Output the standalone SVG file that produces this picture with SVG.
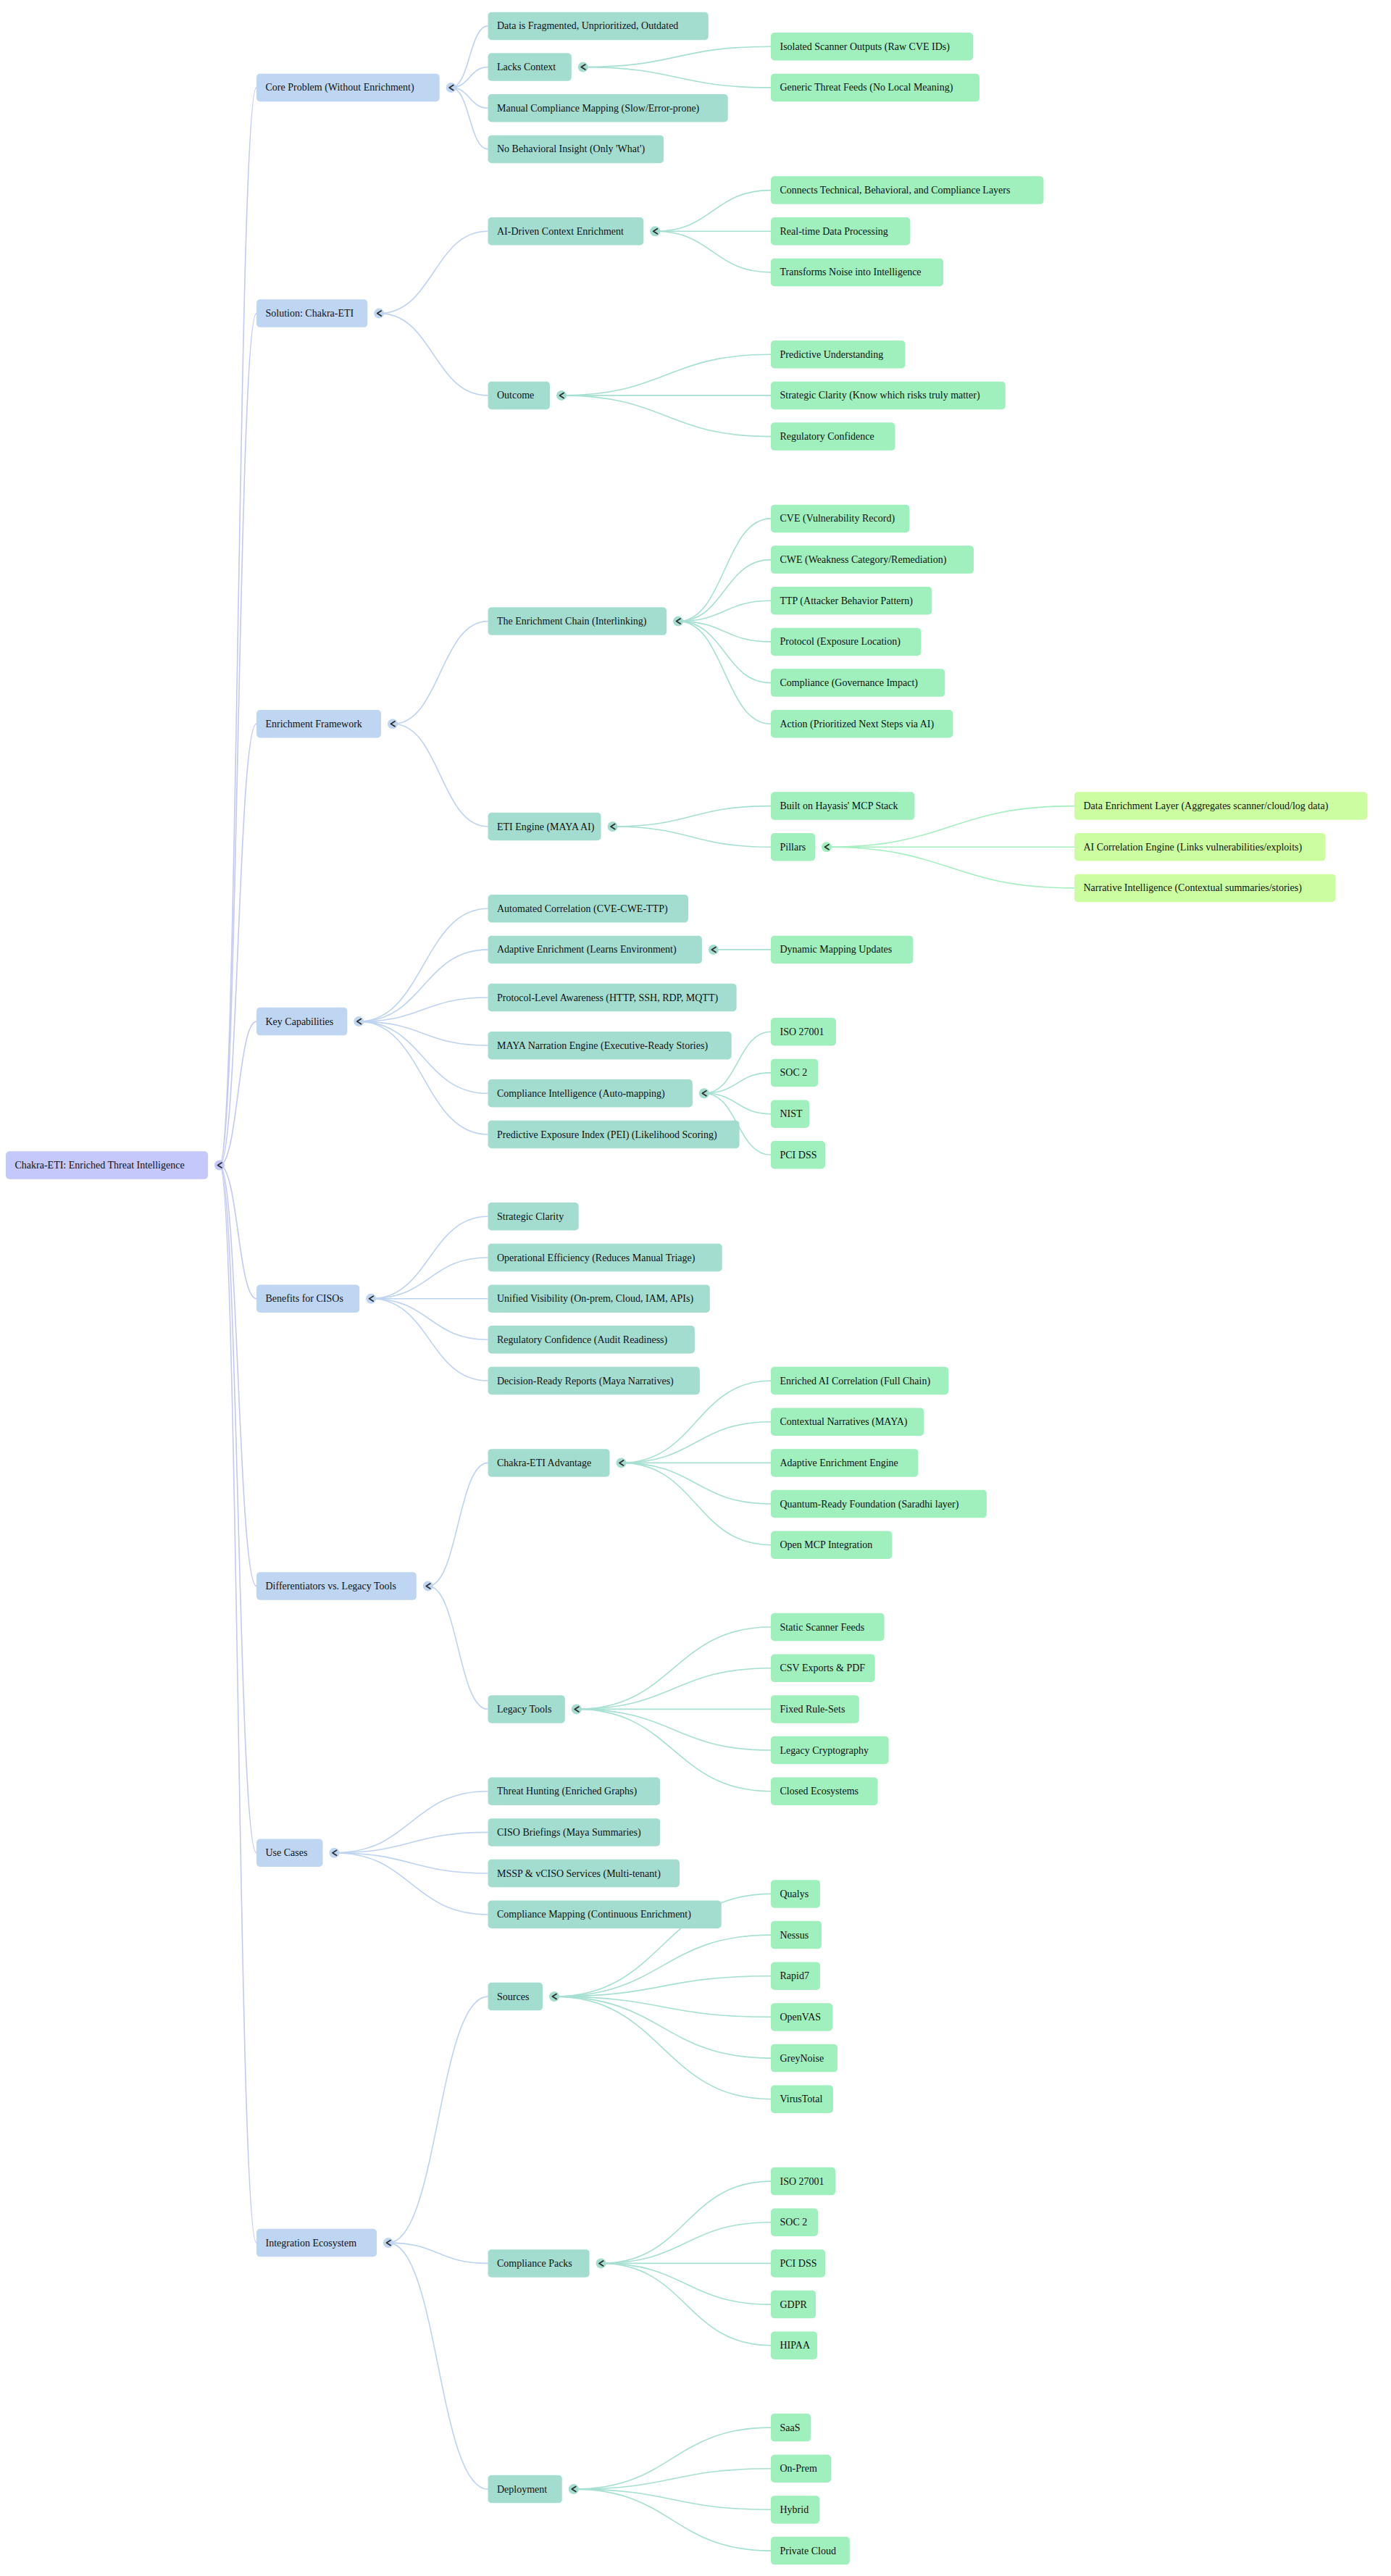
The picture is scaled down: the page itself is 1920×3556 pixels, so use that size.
<svg xmlns="http://www.w3.org/2000/svg" xmlns:xlink="http://www.w3.org/1999/xlink" width="1920" height="3556" viewBox="0 0 1920 3556">
<defs>
<style>
text{font-family:"Liberation Serif","Times New Roman",serif;font-size:14px;fill:#111111}
rect.b{rx:5px;ry:5px}
.f0{fill:#c4c8fb}.f1{fill:#bed6f1}.f2{fill:#a3ddd0}.f3{fill:#9ff0bd}.f4{fill:#cdfda1}
#connectors path{fill:none;stroke-width:1.6}
.c0{stroke:#c3c8f6}.c1{stroke:#bdd3f0}.c2{stroke:#a6e0d2}.c3{stroke:#a3efbf}
.chev{fill:none;stroke:#2e2e2e;stroke-width:1.8;stroke-linecap:round;stroke-linejoin:round}
</style>
<path id="chev" class="chev" d="M3,-3.5 L-2.5,0 L3,3.5"/>
</defs>
<rect width="1920" height="3556" fill="#ffffff"/>
<g id="connectors">
<path class="c0" d="M303,1608.5 C328.5,1608.5 328.5,120.9 354,120.9"/>
<path class="c0" d="M303,1608.5 C328.5,1608.5 328.5,432.6 354,432.6"/>
<path class="c0" d="M303,1608.5 C328.5,1608.5 328.5,999.3 354,999.3"/>
<path class="c0" d="M303,1608.5 C328.5,1608.5 328.5,1410.1 354,1410.1"/>
<path class="c0" d="M303,1608.5 C328.5,1608.5 328.5,1792.7 354,1792.7"/>
<path class="c0" d="M303,1608.5 C328.5,1608.5 328.5,2189.4 354,2189.4"/>
<path class="c0" d="M303,1608.5 C328.5,1608.5 328.5,2557.7 354,2557.7"/>
<path class="c0" d="M303,1608.5 C328.5,1608.5 328.5,3096.1 354,3096.1"/>
<path class="c1" d="M622.7,120.9 C648.1,120.9 648.1,35.9 673.5,35.9"/>
<path class="c1" d="M622.7,120.9 C648.1,120.9 648.1,92.6 673.5,92.6"/>
<path class="c1" d="M622.7,120.9 C648.1,120.9 648.1,149.2 673.5,149.2"/>
<path class="c1" d="M622.7,120.9 C648.1,120.9 648.1,205.9 673.5,205.9"/>
<path class="c1" d="M523.2,432.6 C598.35,432.6 598.35,319.3 673.5,319.3"/>
<path class="c1" d="M523.2,432.6 C598.35,432.6 598.35,545.9 673.5,545.9"/>
<path class="c1" d="M542,999.3 C607.75,999.3 607.75,857.6 673.5,857.6"/>
<path class="c1" d="M542,999.3 C607.75,999.3 607.75,1141 673.5,1141"/>
<path class="c1" d="M495.3,1410.1 C584.4,1410.1 584.4,1254.3 673.5,1254.3"/>
<path class="c1" d="M495.3,1410.1 C584.4,1410.1 584.4,1310.9 673.5,1310.9"/>
<path class="c1" d="M495.3,1410.1 C584.4,1410.1 584.4,1377 673.5,1377"/>
<path class="c1" d="M495.3,1410.1 C584.4,1410.1 584.4,1443.2 673.5,1443.2"/>
<path class="c1" d="M495.3,1410.1 C584.4,1410.1 584.4,1509.3 673.5,1509.3"/>
<path class="c1" d="M495.3,1410.1 C584.4,1410.1 584.4,1566 673.5,1566"/>
<path class="c1" d="M512.2,1792.7 C592.85,1792.7 592.85,1679.3 673.5,1679.3"/>
<path class="c1" d="M512.2,1792.7 C592.85,1792.7 592.85,1736 673.5,1736"/>
<path class="c1" d="M512.2,1792.7 C592.85,1792.7 592.85,1792.7 673.5,1792.7"/>
<path class="c1" d="M512.2,1792.7 C592.85,1792.7 592.85,1849.3 673.5,1849.3"/>
<path class="c1" d="M512.2,1792.7 C592.85,1792.7 592.85,1906 673.5,1906"/>
<path class="c1" d="M590.8,2189.4 C632.15,2189.4 632.15,2019.4 673.5,2019.4"/>
<path class="c1" d="M590.8,2189.4 C632.15,2189.4 632.15,2359.4 673.5,2359.4"/>
<path class="c1" d="M461.5,2557.7 C567.5,2557.7 567.5,2472.7 673.5,2472.7"/>
<path class="c1" d="M461.5,2557.7 C567.5,2557.7 567.5,2529.4 673.5,2529.4"/>
<path class="c1" d="M461.5,2557.7 C567.5,2557.7 567.5,2586 673.5,2586"/>
<path class="c1" d="M461.5,2557.7 C567.5,2557.7 567.5,2642.7 673.5,2642.7"/>
<path class="c1" d="M536,3096.1 C604.75,3096.1 604.75,2756.1 673.5,2756.1"/>
<path class="c1" d="M536,3096.1 C604.75,3096.1 604.75,3124.4 673.5,3124.4"/>
<path class="c1" d="M536,3096.1 C604.75,3096.1 604.75,3436.1 673.5,3436.1"/>
<path class="c2" d="M804.8,92.6 C934.4,92.6 934.4,64.2 1064,64.2"/>
<path class="c2" d="M804.8,92.6 C934.4,92.6 934.4,120.9 1064,120.9"/>
<path class="c2" d="M904.3,319.3 C984.15,319.3 984.15,262.6 1064,262.6"/>
<path class="c2" d="M904.3,319.3 C984.15,319.3 984.15,319.3 1064,319.3"/>
<path class="c2" d="M904.3,319.3 C984.15,319.3 984.15,375.9 1064,375.9"/>
<path class="c2" d="M775,545.9 C919.5,545.9 919.5,489.3 1064,489.3"/>
<path class="c2" d="M775,545.9 C919.5,545.9 919.5,545.9 1064,545.9"/>
<path class="c2" d="M775,545.9 C919.5,545.9 919.5,602.6 1064,602.6"/>
<path class="c2" d="M936.1,857.6 C1000.05,857.6 1000.05,715.9 1064,715.9"/>
<path class="c2" d="M936.1,857.6 C1000.05,857.6 1000.05,772.6 1064,772.6"/>
<path class="c2" d="M936.1,857.6 C1000.05,857.6 1000.05,829.3 1064,829.3"/>
<path class="c2" d="M936.1,857.6 C1000.05,857.6 1000.05,885.9 1064,885.9"/>
<path class="c2" d="M936.1,857.6 C1000.05,857.6 1000.05,942.6 1064,942.6"/>
<path class="c2" d="M936.1,857.6 C1000.05,857.6 1000.05,999.3 1064,999.3"/>
<path class="c2" d="M845.6,1141 C954.8,1141 954.8,1112.6 1064,1112.6"/>
<path class="c2" d="M845.6,1141 C954.8,1141 954.8,1169.3 1064,1169.3"/>
<path class="c2" d="M984.9,1310.9 C1024.45,1310.9 1024.45,1310.9 1064,1310.9"/>
<path class="c2" d="M971.9,1509.3 C1017.95,1509.3 1017.95,1424.3 1064,1424.3"/>
<path class="c2" d="M971.9,1509.3 C1017.95,1509.3 1017.95,1480.9 1064,1480.9"/>
<path class="c2" d="M971.9,1509.3 C1017.95,1509.3 1017.95,1537.7 1064,1537.7"/>
<path class="c2" d="M971.9,1509.3 C1017.95,1509.3 1017.95,1594.3 1064,1594.3"/>
<path class="c2" d="M857.5,2019.4 C960.75,2019.4 960.75,1906 1064,1906"/>
<path class="c2" d="M857.5,2019.4 C960.75,2019.4 960.75,1962.7 1064,1962.7"/>
<path class="c2" d="M857.5,2019.4 C960.75,2019.4 960.75,2019.4 1064,2019.4"/>
<path class="c2" d="M857.5,2019.4 C960.75,2019.4 960.75,2076 1064,2076"/>
<path class="c2" d="M857.5,2019.4 C960.75,2019.4 960.75,2132.7 1064,2132.7"/>
<path class="c2" d="M795.8,2359.4 C929.9,2359.4 929.9,2246 1064,2246"/>
<path class="c2" d="M795.8,2359.4 C929.9,2359.4 929.9,2302.7 1064,2302.7"/>
<path class="c2" d="M795.8,2359.4 C929.9,2359.4 929.9,2359.4 1064,2359.4"/>
<path class="c2" d="M795.8,2359.4 C929.9,2359.4 929.9,2416 1064,2416"/>
<path class="c2" d="M795.8,2359.4 C929.9,2359.4 929.9,2472.7 1064,2472.7"/>
<path class="c2" d="M765,2756.1 C914.5,2756.1 914.5,2614.4 1064,2614.4"/>
<path class="c2" d="M765,2756.1 C914.5,2756.1 914.5,2671.1 1064,2671.1"/>
<path class="c2" d="M765,2756.1 C914.5,2756.1 914.5,2727.7 1064,2727.7"/>
<path class="c2" d="M765,2756.1 C914.5,2756.1 914.5,2784.4 1064,2784.4"/>
<path class="c2" d="M765,2756.1 C914.5,2756.1 914.5,2841.1 1064,2841.1"/>
<path class="c2" d="M765,2756.1 C914.5,2756.1 914.5,2897.7 1064,2897.7"/>
<path class="c2" d="M829.6,3124.4 C946.8,3124.4 946.8,3011.1 1064,3011.1"/>
<path class="c2" d="M829.6,3124.4 C946.8,3124.4 946.8,3067.7 1064,3067.7"/>
<path class="c2" d="M829.6,3124.4 C946.8,3124.4 946.8,3124.4 1064,3124.4"/>
<path class="c2" d="M829.6,3124.4 C946.8,3124.4 946.8,3181.1 1064,3181.1"/>
<path class="c2" d="M829.6,3124.4 C946.8,3124.4 946.8,3237.7 1064,3237.7"/>
<path class="c2" d="M791.8,3436.1 C927.9,3436.1 927.9,3351.1 1064,3351.1"/>
<path class="c2" d="M791.8,3436.1 C927.9,3436.1 927.9,3407.8 1064,3407.8"/>
<path class="c2" d="M791.8,3436.1 C927.9,3436.1 927.9,3464.4 1064,3464.4"/>
<path class="c2" d="M791.8,3436.1 C927.9,3436.1 927.9,3521.1 1064,3521.1"/>
<path class="c3" d="M1141,1169.3 C1312,1169.3 1312,1112.6 1483,1112.6"/>
<path class="c3" d="M1141,1169.3 C1312,1169.3 1312,1169.3 1483,1169.3"/>
<path class="c3" d="M1141,1169.3 C1312,1169.3 1312,1225.9 1483,1225.9"/>
</g>
<g id="nodes">
<g id="root"><rect class="b f0" x="8" y="1589.25" width="279" height="38.5"/><text x="20.5" y="1613">Chakra-ETI: Enriched Threat Intelligence</text><circle class="f0" cx="303" cy="1608.5" r="7"/><use xlink:href="#chev" x="303" y="1608.5"/></g>

<g id="core-problem"><rect class="b f1" x="354" y="101.65" width="252.7" height="38.5"/><text x="366.5" y="125.4">Core Problem (Without Enrichment)</text><circle class="f1" cx="622.7" cy="120.9" r="7"/><use xlink:href="#chev" x="622.7" y="120.9"/></g>
<g id="solution"><rect class="b f1" x="354" y="413.35" width="153.2" height="38.5"/><text x="366.5" y="437.1">Solution: Chakra-ETI</text><circle class="f1" cx="523.2" cy="432.6" r="7"/><use xlink:href="#chev" x="523.2" y="432.6"/></g>
<g id="enrichment-framework"><rect class="b f1" x="354" y="980.05" width="172" height="38.5"/><text x="366.5" y="1003.8">Enrichment Framework</text><circle class="f1" cx="542" cy="999.3" r="7"/><use xlink:href="#chev" x="542" y="999.3"/></g>
<g id="key-capabilities"><rect class="b f1" x="354" y="1390.85" width="125.3" height="38.5"/><text x="366.5" y="1414.6">Key Capabilities</text><circle class="f1" cx="495.3" cy="1410.1" r="7"/><use xlink:href="#chev" x="495.3" y="1410.1"/></g>
<g id="benefits"><rect class="b f1" x="354" y="1773.45" width="142.2" height="38.5"/><text x="366.5" y="1797.2">Benefits for CISOs</text><circle class="f1" cx="512.2" cy="1792.7" r="7"/><use xlink:href="#chev" x="512.2" y="1792.7"/></g>
<g id="differentiators"><rect class="b f1" x="354" y="2170.15" width="220.8" height="38.5"/><text x="366.5" y="2193.9">Differentiators vs. Legacy Tools</text><circle class="f1" cx="590.8" cy="2189.4" r="7"/><use xlink:href="#chev" x="590.8" y="2189.4"/></g>
<g id="use-cases"><rect class="b f1" x="354" y="2538.45" width="91.5" height="38.5"/><text x="366.5" y="2562.2">Use Cases</text><circle class="f1" cx="461.5" cy="2557.7" r="7"/><use xlink:href="#chev" x="461.5" y="2557.7"/></g>
<g id="integration"><rect class="b f1" x="354" y="3076.85" width="166" height="38.5"/><text x="366.5" y="3100.6">Integration Ecosystem</text><circle class="f1" cx="536" cy="3096.1" r="7"/><use xlink:href="#chev" x="536" y="3096.1"/></g>

<g id="data-fragmented"><rect class="b f2" x="673.5" y="16.65" width="304.3" height="38.5"/><text x="686" y="40.4">Data is Fragmented, Unprioritized, Outdated</text></g>
<g id="lacks-context"><rect class="b f2" x="673.5" y="73.35" width="115.3" height="38.5"/><text x="686" y="97.1">Lacks Context</text><circle class="f2" cx="804.8" cy="92.6" r="7"/><use xlink:href="#chev" x="804.8" y="92.6"/></g>
<g id="manual-compliance"><rect class="b f2" x="673.5" y="129.95" width="331.2" height="38.5"/><text x="686" y="153.7">Manual Compliance Mapping (Slow/Error-prone)</text></g>
<g id="no-behavioral"><rect class="b f2" x="673.5" y="186.65" width="242.6" height="38.5"/><text x="686" y="210.4">No Behavioral Insight (Only 'What')</text></g>
<g id="ai-driven"><rect class="b f2" x="673.5" y="300.05" width="214.8" height="38.5"/><text x="686" y="323.8">AI-Driven Context Enrichment</text><circle class="f2" cx="904.3" cy="319.3" r="7"/><use xlink:href="#chev" x="904.3" y="319.3"/></g>
<g id="outcome"><rect class="b f2" x="673.5" y="526.65" width="85.5" height="38.5"/><text x="686" y="550.4">Outcome</text><circle class="f2" cx="775" cy="545.9" r="7"/><use xlink:href="#chev" x="775" y="545.9"/></g>
<g id="enrichment-chain"><rect class="b f2" x="673.5" y="838.35" width="246.6" height="38.5"/><text x="686" y="862.1">The Enrichment Chain (Interlinking)</text><circle class="f2" cx="936.1" cy="857.6" r="7"/><use xlink:href="#chev" x="936.1" y="857.6"/></g>
<g id="eti-engine"><rect class="b f2" x="673.5" y="1121.75" width="156.1" height="38.5"/><text x="686" y="1145.5">ETI Engine (MAYA AI)</text><circle class="f2" cx="845.6" cy="1141" r="7"/><use xlink:href="#chev" x="845.6" y="1141"/></g>
<g id="automated-correlation"><rect class="b f2" x="673.5" y="1235.05" width="276.5" height="38.5"/><text x="686" y="1258.8">Automated Correlation (CVE-CWE-TTP)</text></g>
<g id="adaptive-enrichment"><rect class="b f2" x="673.5" y="1291.65" width="295.4" height="38.5"/><text x="686" y="1315.4">Adaptive Enrichment (Learns Environment)</text><circle class="f2" cx="984.9" cy="1310.9" r="7"/><use xlink:href="#chev" x="984.9" y="1310.9"/></g>
<g id="protocol-level"><rect class="b f2" x="673.5" y="1357.75" width="343.1" height="38.5"/><text x="686" y="1381.5">Protocol-Level Awareness (HTTP, SSH, RDP, MQTT)</text></g>
<g id="maya-narration"><rect class="b f2" x="673.5" y="1423.95" width="336.2" height="38.5"/><text x="686" y="1447.7">MAYA Narration Engine (Executive-Ready Stories)</text></g>
<g id="compliance-intelligence"><rect class="b f2" x="673.5" y="1490.05" width="282.4" height="38.5"/><text x="686" y="1513.8">Compliance Intelligence (Auto-mapping)</text><circle class="f2" cx="971.9" cy="1509.3" r="7"/><use xlink:href="#chev" x="971.9" y="1509.3"/></g>
<g id="pei"><rect class="b f2" x="673.5" y="1546.75" width="347.1" height="38.5"/><text x="686" y="1570.5">Predictive Exposure Index (PEI) (Likelihood Scoring)</text></g>
<g id="strategic-clarity"><rect class="b f2" x="673.5" y="1660.05" width="125.2" height="38.5"/><text x="686" y="1683.8">Strategic Clarity</text></g>
<g id="operational-efficiency"><rect class="b f2" x="673.5" y="1716.75" width="323.2" height="38.5"/><text x="686" y="1740.5">Operational Efficiency (Reduces Manual Triage)</text></g>
<g id="unified-visibility"><rect class="b f2" x="673.5" y="1773.45" width="306.3" height="38.5"/><text x="686" y="1797.2">Unified Visibility (On-prem, Cloud, IAM, APIs)</text></g>
<g id="regulatory-audit"><rect class="b f2" x="673.5" y="1830.05" width="285.4" height="38.5"/><text x="686" y="1853.8">Regulatory Confidence (Audit Readiness)</text></g>
<g id="decision-ready"><rect class="b f2" x="673.5" y="1886.75" width="292.4" height="38.5"/><text x="686" y="1910.5">Decision-Ready Reports (Maya Narratives)</text></g>
<g id="eti-advantage"><rect class="b f2" x="673.5" y="2000.15" width="168" height="38.5"/><text x="686" y="2023.9">Chakra-ETI Advantage</text><circle class="f2" cx="857.5" cy="2019.4" r="7"/><use xlink:href="#chev" x="857.5" y="2019.4"/></g>
<g id="legacy-tools"><rect class="b f2" x="673.5" y="2340.15" width="106.3" height="38.5"/><text x="686" y="2363.9">Legacy Tools</text><circle class="f2" cx="795.8" cy="2359.4" r="7"/><use xlink:href="#chev" x="795.8" y="2359.4"/></g>
<g id="threat-hunting"><rect class="b f2" x="673.5" y="2453.45" width="237.6" height="38.5"/><text x="686" y="2477.2">Threat Hunting (Enriched Graphs)</text></g>
<g id="ciso-briefings"><rect class="b f2" x="673.5" y="2510.15" width="237.6" height="38.5"/><text x="686" y="2533.9">CISO Briefings (Maya Summaries)</text></g>
<g id="mssp"><rect class="b f2" x="673.5" y="2566.75" width="264.5" height="38.5"/><text x="686" y="2590.5">MSSP &amp; vCISO Services (Multi-tenant)</text></g>
<g id="compliance-mapping"><rect class="b f2" x="673.5" y="2623.45" width="322.2" height="38.5"/><text x="686" y="2647.2">Compliance Mapping (Continuous Enrichment)</text></g>
<g id="sources"><rect class="b f2" x="673.5" y="2736.85" width="75.5" height="38.5"/><text x="686" y="2760.6">Sources</text><circle class="f2" cx="765" cy="2756.1" r="7"/><use xlink:href="#chev" x="765" y="2756.1"/></g>
<g id="compliance-packs"><rect class="b f2" x="673.5" y="3105.15" width="140.1" height="38.5"/><text x="686" y="3128.9">Compliance Packs</text><circle class="f2" cx="829.6" cy="3124.4" r="7"/><use xlink:href="#chev" x="829.6" y="3124.4"/></g>
<g id="deployment"><rect class="b f2" x="673.5" y="3416.85" width="102.3" height="38.5"/><text x="686" y="3440.6">Deployment</text><circle class="f2" cx="791.8" cy="3436.1" r="7"/><use xlink:href="#chev" x="791.8" y="3436.1"/></g>

<g id="isolated-scanner"><rect class="b f3" x="1064" y="44.95" width="279" height="38.5"/><text x="1076.5" y="68.7">Isolated Scanner Outputs (Raw CVE IDs)</text></g>
<g id="generic-feeds"><rect class="b f3" x="1064" y="101.65" width="288" height="38.5"/><text x="1076.5" y="125.4">Generic Threat Feeds (No Local Meaning)</text></g>
<g id="connects-layers"><rect class="b f3" x="1064" y="243.35" width="376.5" height="38.5"/><text x="1076.5" y="267.1">Connects Technical, Behavioral, and Compliance Layers</text></g>
<g id="realtime"><rect class="b f3" x="1064" y="300.05" width="192.4" height="38.5"/><text x="1076.5" y="323.8">Real-time Data Processing</text></g>
<g id="transforms-noise"><rect class="b f3" x="1064" y="356.65" width="238" height="38.5"/><text x="1076.5" y="380.4">Transforms Noise into Intelligence</text></g>
<g id="predictive-understanding"><rect class="b f3" x="1064" y="470.05" width="185.5" height="38.5"/><text x="1076.5" y="493.8">Predictive Understanding</text></g>
<g id="strategic-know"><rect class="b f3" x="1064" y="526.65" width="323.8" height="38.5"/><text x="1076.5" y="550.4">Strategic Clarity (Know which risks truly matter)</text></g>
<g id="regulatory-confidence"><rect class="b f3" x="1064" y="583.35" width="171.5" height="38.5"/><text x="1076.5" y="607.1">Regulatory Confidence</text></g>
<g id="cve"><rect class="b f3" x="1064" y="696.65" width="191.4" height="38.5"/><text x="1076.5" y="720.4">CVE (Vulnerability Record)</text></g>
<g id="cwe"><rect class="b f3" x="1064" y="753.35" width="280" height="38.5"/><text x="1076.5" y="777.1">CWE (Weakness Category/Remediation)</text></g>
<g id="ttp"><rect class="b f3" x="1064" y="810.05" width="222.3" height="38.5"/><text x="1076.5" y="833.8">TTP (Attacker Behavior Pattern)</text></g>
<g id="protocol"><rect class="b f3" x="1064" y="866.65" width="207.3" height="38.5"/><text x="1076.5" y="890.4">Protocol (Exposure Location)</text></g>
<g id="compliance-governance"><rect class="b f3" x="1064" y="923.35" width="240.2" height="38.5"/><text x="1076.5" y="947.1">Compliance (Governance Impact)</text></g>
<g id="action"><rect class="b f3" x="1064" y="980.05" width="251.1" height="38.5"/><text x="1076.5" y="1003.8">Action (Prioritized Next Steps via AI)</text></g>
<g id="built-on"><rect class="b f3" x="1064" y="1093.35" width="198.4" height="38.5"/><text x="1076.5" y="1117.1">Built on Hayasis' MCP Stack</text></g>
<g id="pillars"><rect class="b f3" x="1064" y="1150.05" width="61" height="38.5"/><text x="1076.5" y="1173.8">Pillars</text><circle class="f3" cx="1141" cy="1169.3" r="7"/><use xlink:href="#chev" x="1141" y="1169.3"/></g>
<g id="dynamic-mapping"><rect class="b f3" x="1064" y="1291.65" width="196.4" height="38.5"/><text x="1076.5" y="1315.4">Dynamic Mapping Updates</text></g>
<g id="ci-iso27001"><rect class="b f3" x="1064" y="1405.05" width="90" height="38.5"/><text x="1076.5" y="1428.8">ISO 27001</text></g>
<g id="ci-soc2"><rect class="b f3" x="1064" y="1461.65" width="65" height="38.5"/><text x="1076.5" y="1485.4">SOC 2</text></g>
<g id="ci-nist"><rect class="b f3" x="1064" y="1518.45" width="53" height="38.5"/><text x="1076.5" y="1542.2">NIST</text></g>
<g id="ci-pcidss"><rect class="b f3" x="1064" y="1575.05" width="75" height="38.5"/><text x="1076.5" y="1598.8">PCI DSS</text></g>
<g id="enriched-ai"><rect class="b f3" x="1064" y="1886.75" width="245.2" height="38.5"/><text x="1076.5" y="1910.5">Enriched AI Correlation (Full Chain)</text></g>
<g id="contextual-narratives"><rect class="b f3" x="1064" y="1943.45" width="211.3" height="38.5"/><text x="1076.5" y="1967.2">Contextual Narratives (MAYA)</text></g>
<g id="adaptive-engine"><rect class="b f3" x="1064" y="2000.15" width="203.4" height="38.5"/><text x="1076.5" y="2023.9">Adaptive Enrichment Engine</text></g>
<g id="quantum-ready"><rect class="b f3" x="1064" y="2056.75" width="297.9" height="38.5"/><text x="1076.5" y="2080.5">Quantum-Ready Foundation (Saradhi layer)</text></g>
<g id="open-mcp"><rect class="b f3" x="1064" y="2113.45" width="167.5" height="38.5"/><text x="1076.5" y="2137.2">Open MCP Integration</text></g>
<g id="static-feeds"><rect class="b f3" x="1064" y="2226.75" width="156.6" height="38.5"/><text x="1076.5" y="2250.5">Static Scanner Feeds</text></g>
<g id="csv-exports"><rect class="b f3" x="1064" y="2283.45" width="143.7" height="38.5"/><text x="1076.5" y="2307.2">CSV Exports &amp; PDF</text></g>
<g id="fixed-rules"><rect class="b f3" x="1064" y="2340.15" width="121.8" height="38.5"/><text x="1076.5" y="2363.9">Fixed Rule-Sets</text></g>
<g id="legacy-crypto"><rect class="b f3" x="1064" y="2396.75" width="162.6" height="38.5"/><text x="1076.5" y="2420.5">Legacy Cryptography</text></g>
<g id="closed-ecosystems"><rect class="b f3" x="1064" y="2453.45" width="147.6" height="38.5"/><text x="1076.5" y="2477.2">Closed Ecosystems</text></g>
<g id="qualys"><rect class="b f3" x="1064" y="2595.15" width="68" height="38.5"/><text x="1076.5" y="2618.9">Qualys</text></g>
<g id="nessus"><rect class="b f3" x="1064" y="2651.85" width="70" height="38.5"/><text x="1076.5" y="2675.6">Nessus</text></g>
<g id="rapid7"><rect class="b f3" x="1064" y="2708.45" width="68" height="38.5"/><text x="1076.5" y="2732.2">Rapid7</text></g>
<g id="openvas"><rect class="b f3" x="1064" y="2765.15" width="85" height="38.5"/><text x="1076.5" y="2788.9">OpenVAS</text></g>
<g id="greynoise"><rect class="b f3" x="1064" y="2821.85" width="92" height="38.5"/><text x="1076.5" y="2845.6">GreyNoise</text></g>
<g id="virustotal"><rect class="b f3" x="1064" y="2878.45" width="86" height="38.5"/><text x="1076.5" y="2902.2">VirusTotal</text></g>
<g id="cp-iso27001"><rect class="b f3" x="1064" y="2991.85" width="89" height="38.5"/><text x="1076.5" y="3015.6">ISO 27001</text></g>
<g id="cp-soc2"><rect class="b f3" x="1064" y="3048.45" width="65" height="38.5"/><text x="1076.5" y="3072.2">SOC 2</text></g>
<g id="cp-pcidss"><rect class="b f3" x="1064" y="3105.15" width="75" height="38.5"/><text x="1076.5" y="3128.9">PCI DSS</text></g>
<g id="cp-gdpr"><rect class="b f3" x="1064" y="3161.85" width="62" height="38.5"/><text x="1076.5" y="3185.6">GDPR</text></g>
<g id="cp-hipaa"><rect class="b f3" x="1064" y="3218.45" width="64" height="38.5"/><text x="1076.5" y="3242.2">HIPAA</text></g>
<g id="saas"><rect class="b f3" x="1064" y="3331.85" width="55" height="38.5"/><text x="1076.5" y="3355.6">SaaS</text></g>
<g id="on-prem"><rect class="b f3" x="1064" y="3388.55" width="83" height="38.5"/><text x="1076.5" y="3412.3">On-Prem</text></g>
<g id="hybrid"><rect class="b f3" x="1064" y="3445.15" width="67" height="38.5"/><text x="1076.5" y="3468.9">Hybrid</text></g>
<g id="private-cloud"><rect class="b f3" x="1064" y="3501.85" width="108.8" height="38.5"/><text x="1076.5" y="3525.6">Private Cloud</text></g>

<g id="data-enrichment-layer"><rect class="b f4" x="1483" y="1093.35" width="404.3" height="38.5"/><text x="1495.5" y="1117.1">Data Enrichment Layer (Aggregates scanner/cloud/log data)</text></g>
<g id="ai-correlation-engine"><rect class="b f4" x="1483" y="1150.05" width="346.5" height="38.5"/><text x="1495.5" y="1173.8">AI Correlation Engine (Links vulnerabilities/exploits)</text></g>
<g id="narrative-intelligence"><rect class="b f4" x="1483" y="1206.65" width="360.5" height="38.5"/><text x="1495.5" y="1230.4">Narrative Intelligence (Contextual summaries/stories)</text></g>
</g>
</svg>
